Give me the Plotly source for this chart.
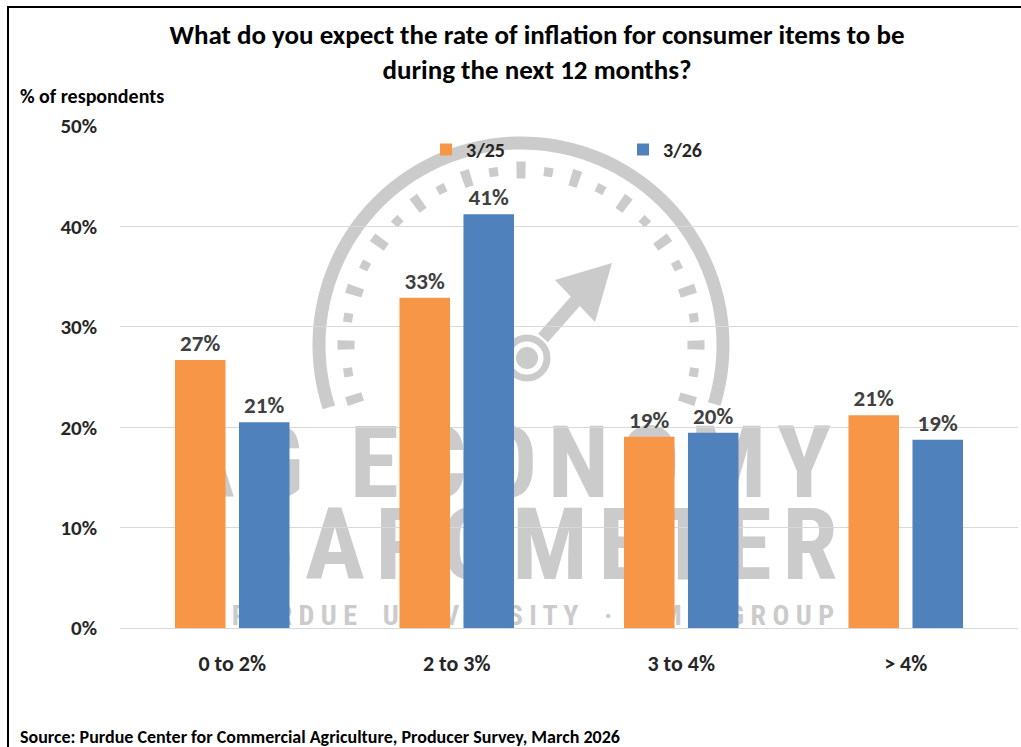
import numpy as np
import plotly.graph_objects as go

categories = ["0 to 2%", "2 to 3%", "3 to 4%", "> 4%"]
series_names = ["3/25", "3/26"]
values_2025 = [26.7, 32.9, 19.05, 21.2]
values_2026 = [20.5, 41.2, 19.45, 18.75]
labels_2025 = ["27%", "33%", "19%", "21%"]
labels_2026 = ["21%", "41%", "20%", "19%"]
y_ticks = [0, 10, 20, 30, 40, 50]
y_ticklabels = ["0%", "10%", "20%", "30%", "40%", "50%"]

W, H = 1021, 747
L, R, T, B = 120, 3, 126, 119
PW, PH = W - L - R, H - T - B


def px(x):
    return (x - L) / PW


def py(y):
    return (H - B - y) / PH


FONT = "Carlito, Calibri, Lato, 'Open Sans', sans-serif"
WM = "'Roboto Condensed', Roboto, sans-serif"
WMC = "#cbcbcb"
TXT = "#262626"

fig = go.Figure()
for vals, labs, name, col in [(values_2025, labels_2025, series_names[0], "#F79646"),
                              (values_2026, labels_2026, series_names[1], "#4F81BD")]:
    fig.add_trace(go.Bar(
        x=categories, y=vals, name=name,
        marker=dict(color=col, line=dict(width=0)),
        text=labs, textposition="outside", cliponaxis=False,
        textfont=dict(family=FONT, size=23, color="#404040", weight="bold"),
    ))

shapes = []
# outer frame
shapes.append(dict(type="rect", xref="paper", yref="paper",
                   x0=px(8), x1=px(1040), y0=py(7), y1=py(770),
                   line=dict(color="black", width=2), fillcolor="rgba(0,0,0,0)",
                   layer="above"))


def arc_path(cx, cy, r, a0, a1, n=120):
    ang = np.radians(np.linspace(a0, a1, n))
    pts = [(px(cx + r * np.cos(a)), py(cy - r * np.sin(a))) for a in ang]
    return "M " + " L ".join(f"{x:.5f},{y:.5f}" for x, y in pts)


# watermark gauge
cx, cy = 521, 345
shapes.append(dict(type="path", xref="paper", yref="paper",
                   path=arc_path(cx, cy, 202, 198, -17),
                   line=dict(color=WMC, width=13), layer="below"))
rt = 175
half = np.degrees(4.5 / rt)
seg = 2 * np.pi * rt * 18 / 360
# long ticks every 18 degrees
shapes.append(dict(type="path", xref="paper", yref="paper",
                   path=arc_path(cx, cy, rt, 198 + half, -18 - half, 200),
                   line=dict(color=WMC, width=17, dash=f"9px,{seg - 9:.2f}px"), layer="below"))
# short ticks in between
shapes.append(dict(type="path", xref="paper", yref="paper",
                   path=arc_path(cx, cy, rt, 189 + half, -9 - half, 200),
                   line=dict(color=WMC, width=9, dash=f"9px,{seg - 9:.2f}px"), layer="below"))
hx, hy = 527, 358
shapes.append(dict(type="circle", xref="paper", yref="paper",
                   x0=px(hx - 20), x1=px(hx + 20), y0=py(hy + 20), y1=py(hy - 20),
                   line=dict(color=WMC, width=7), fillcolor="rgba(0,0,0,0)", layer="below"))
shapes.append(dict(type="circle", xref="paper", yref="paper",
                   x0=px(hx - 11), x1=px(hx + 11), y0=py(hy + 11), y1=py(hy - 11),
                   line=dict(width=0), fillcolor=WMC, layer="below"))
shapes.append(dict(type="line", xref="paper", yref="paper",
                   x0=px(543), y0=py(338), x1=px(580), y1=py(296),
                   line=dict(color=WMC, width=13), layer="below"))
tri = f"M {px(612):.5f},{py(263):.5f} L {px(555):.5f},{py(280):.5f} L {px(595):.5f},{py(322):.5f} Z"
shapes.append(dict(type="path", xref="paper", yref="paper", path=tri,
                   line=dict(width=0), fillcolor=WMC, layer="below"))

HS = "\u200a"  # hair space for letter spacing
wm_lines = [
    (HS.join("AG") + "  " + HS.join("ECONOMY"), 503, 455, 100),
    (HS.join("BAROMETER"), 538, 537, 100),
    ("P U R D U E    U N I V E R S I T Y    ·    C M E    G R O U P", 533, 613, 28),
]
for text, xc, yc, size in wm_lines:
    shapes.append(dict(type="rect", xref="paper", yref="paper",
                       x0=px(xc - 450), x1=px(xc + 450), y0=py(yc + 40), y1=py(yc - 40),
                       line=dict(width=0), fillcolor="rgba(0,0,0,0)", layer="below",
                       label=dict(text=text, textposition="middle center",
                                  font=dict(family=WM, size=size, color=WMC, weight="bold"))))

fig.update_layout(
    width=W, height=H,
    margin=dict(l=L, r=R, t=T, b=B),
    paper_bgcolor="white", plot_bgcolor="rgba(0,0,0,0)",
    barmode="group", bargap=0.43, bargroupgap=0.21,
    title=dict(text="What do you expect the rate of inflation for consumer items to be<br>during the next 12 months?",
               x=537 / W, xanchor="center", xref="container", yref="container",
               y=1 - 44 / H, yanchor="middle",
               font=dict(family=FONT, size=27, color="black", weight="bold")),
    font=dict(family=FONT),
    showlegend=True,
    legend=dict(orientation="h", x=px(426), xanchor="left", y=py(149.5), yanchor="middle",
                entrywidth=152, entrywidthmode="pixels",
                font=dict(family=FONT, size=20, color=TXT, weight="bold"),
                bgcolor="rgba(0,0,0,0)", itemclick=False),
    xaxis=dict(showgrid=False, showline=False, ticks="", ticklabelstandoff=20,
               tickfont=dict(family=FONT, size=22, color=TXT, weight="bold")),
    yaxis=dict(range=[0, 50], tickvals=y_ticks, ticktext=y_ticklabels,
               showgrid=True, gridcolor="#D9D9D9", gridwidth=1,
               zeroline=True, zerolinecolor="#D9D9D9", zerolinewidth=1,
               showline=False, ticks="", ticklabelstandoff=22,
               tickfont=dict(family=FONT, size=21, color=TXT, weight="bold")),
    shapes=shapes,
    annotations=[
        dict(text="% of respondents", xref="paper", yref="paper", x=px(18), y=py(96),
             xanchor="left", yanchor="middle", showarrow=False,
             font=dict(family=FONT, size=20, color="black", weight="bold")),
        dict(text="Source: Purdue Center for Commercial Agriculture, Producer Survey, March 2026",
             xref="paper", yref="paper", x=px(18), y=py(737),
             xanchor="left", yanchor="middle", showarrow=False,
             font=dict(family=FONT, size=18, color="black", weight="bold")),
    ],
)

fig.write_html("out.html")
